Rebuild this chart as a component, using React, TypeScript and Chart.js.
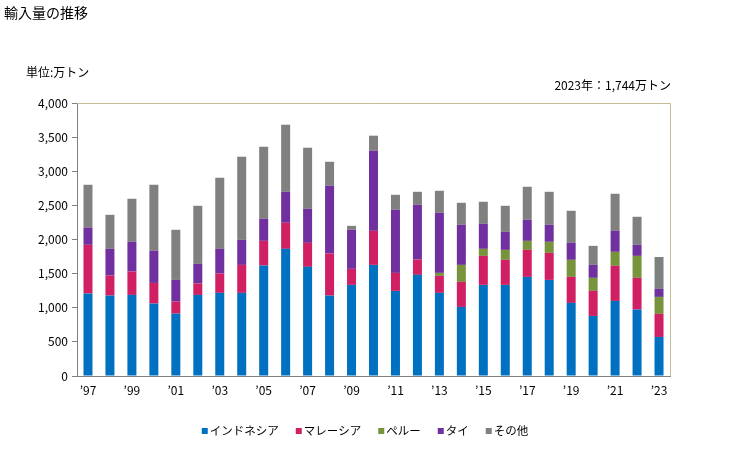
import React, { useEffect, useRef } from "react";
import { Chart, registerables } from "chart.js";

Chart.register(...registerables);

const categories = [
  "1997", "1998", "1999", "2000", "2001", "2002", "2003", "2004", "2005",
  "2006", "2007", "2008", "2009", "2010", "2011", "2012", "2013", "2014",
  "2015", "2016", "2017", "2018", "2019", "2020", "2021", "2022", "2023",
];

const tickLabels = [
  "’97", "", "’99", "", "’01", "", "’03", "", "’05",
  "", "’07", "", "’09", "", "’11", "", "’13", "",
  "’15", "", "’17", "", "’19", "", "’21", "", "’23",
];

const indonesia = [1208, 1178, 1188, 1061, 914, 1188, 1218, 1218, 1619, 1863, 1599, 1178, 1335, 1628, 1247, 1482, 1218, 1012, 1335, 1335, 1452, 1408, 1071, 880, 1100, 973, 572];
const malaysia = [714, 294, 343, 303, 176, 167, 283, 410, 361, 382, 352, 617, 235, 499, 264, 225, 249, 367, 425, 367, 396, 396, 381, 367, 514, 465, 338];
const peru = [0, 0, 0, 0, 0, 0, 0, 0, 0, 0, 0, 0, 0, 0, 0, 0, 44, 249, 103, 146, 132, 162, 250, 191, 205, 322, 249];
const thai = [254, 391, 435, 470, 318, 288, 362, 367, 323, 454, 499, 992, 572, 1174, 924, 802, 880, 587, 367, 264, 309, 249, 249, 190, 308, 162, 117];
const other = [626, 499, 631, 968, 734, 851, 1042, 1218, 1056, 983, 895, 352, 58, 220, 220, 190, 323, 323, 323, 382, 484, 484, 470, 279, 543, 411, 468];

const seriesNames = ["インドネシア", "マレーシア", "ペルー", "タイ", "その他"];
const seriesColors = ["#0070C0", "#D01F63", "#77933C", "#7030A0", "#808080"];

const titleText = "輸入量の推移";
const unitText = "単位:万トン";
const noteText = "2023年：1,744万トン";

const FONT = '"Noto Sans CJK JP", "Noto Sans", sans-serif';

const decorPlugin = {
  id: "decor",
  afterDraw(chart: any) {
    const { ctx, chartArea } = chart;
    ctx.save();
    // top & right frame
    ctx.strokeStyle = "#C4BC96";
    ctx.lineWidth = 1;
    ctx.beginPath();
    ctx.moveTo(chartArea.left, chartArea.top + 0.5);
    ctx.lineTo(chartArea.right + 0.5, chartArea.top + 0.5);
    ctx.lineTo(chartArea.right + 0.5, chartArea.bottom);
    ctx.stroke();

    ctx.fillStyle = "#000";
    ctx.textBaseline = "middle";
    ctx.textAlign = "left";
    ctx.font = `14px ${FONT}`;
    ctx.fillText(titleText, 4, 13);
    ctx.font = `12px ${FONT}`;
    ctx.fillText(unitText, 26, 72);
    ctx.textAlign = "right";
    ctx.fillText(noteText, 671, 85);

    // legend
    ctx.font = `11.5px ${FONT}`;
    ctx.textAlign = "left";
    const sq = 6;
    const gapSq = 2;
    const gapItem = 17;
    const widths = seriesNames.map((n) => ctx.measureText(n).width);
    const total =
      widths.reduce((a, b) => a + b, 0) +
      seriesNames.length * (sq + gapSq) +
      (seriesNames.length - 1) * gapItem;
    let x = 365 - total / 2;
    const y = 431;
    seriesNames.forEach((n, i) => {
      ctx.fillStyle = seriesColors[i];
      ctx.fillRect(x, y - sq / 2, sq, sq);
      x += sq + gapSq;
      ctx.fillStyle = "#000";
      ctx.fillText(n, x, y);
      x += widths[i] + gapItem;
    });
    ctx.restore();
  },
};

export default function App() {
  const ref = useRef<HTMLCanvasElement | null>(null);

  useEffect(() => {
    document.body.style.margin = "0";
    const canvas = ref.current;
    if (!canvas) return;
    const seriesData = [indonesia, malaysia, peru, thai, other];
    const chart = new Chart(canvas, {
      type: "bar",
      data: {
        labels: categories,
        datasets: seriesNames.map((name, i) => ({
          label: name,
          data: seriesData[i],
          backgroundColor: seriesColors[i],
          borderWidth: 0,
          categoryPercentage: 1,
          barPercentage: 0.41,
        })),
      },
      options: {
        animation: false,
        responsive: false,
        devicePixelRatio: 1,
        layout: { padding: { top: 103, right: 59, bottom: 50, left: 0 } },
        plugins: {
          legend: { display: false },
          tooltip: { enabled: false },
        },
        scales: {
          x: {
            stacked: true,
            grid: { drawOnChartArea: false, drawTicks: false },
            border: { color: "#808080", width: 1 },
            ticks: {
              autoSkip: false,
              maxRotation: 0,
              padding: 7,
              color: "#000",
              font: { family: FONT, size: 12 },
              callback: (_v: any, i: number) => tickLabels[i],
            },
            afterFit: (s: any) => {
              s.height = 24;
            },
          },
          y: {
            stacked: true,
            min: 0,
            max: 4000,
            ticks: {
              stepSize: 500,
              padding: 4,
              color: "#000",
              font: { family: FONT, size: 12 },
              callback: (v: any) => Number(v).toLocaleString("en-US"),
            },
            grid: {
              drawOnChartArea: false,
              drawTicks: true,
              tickLength: 5,
              color: "#808080",
            },
            border: { color: "#808080", width: 1 },
            afterFit: (s: any) => {
              s.width = 77;
            },
          },
        },
      },
      plugins: [decorPlugin],
    });
    return () => chart.destroy();
  }, []);

  return (
    <div style={{ width: 729, height: 450, position: "relative" }}>
      <canvas ref={ref} width={729} height={450} />
    </div>
  );
}
